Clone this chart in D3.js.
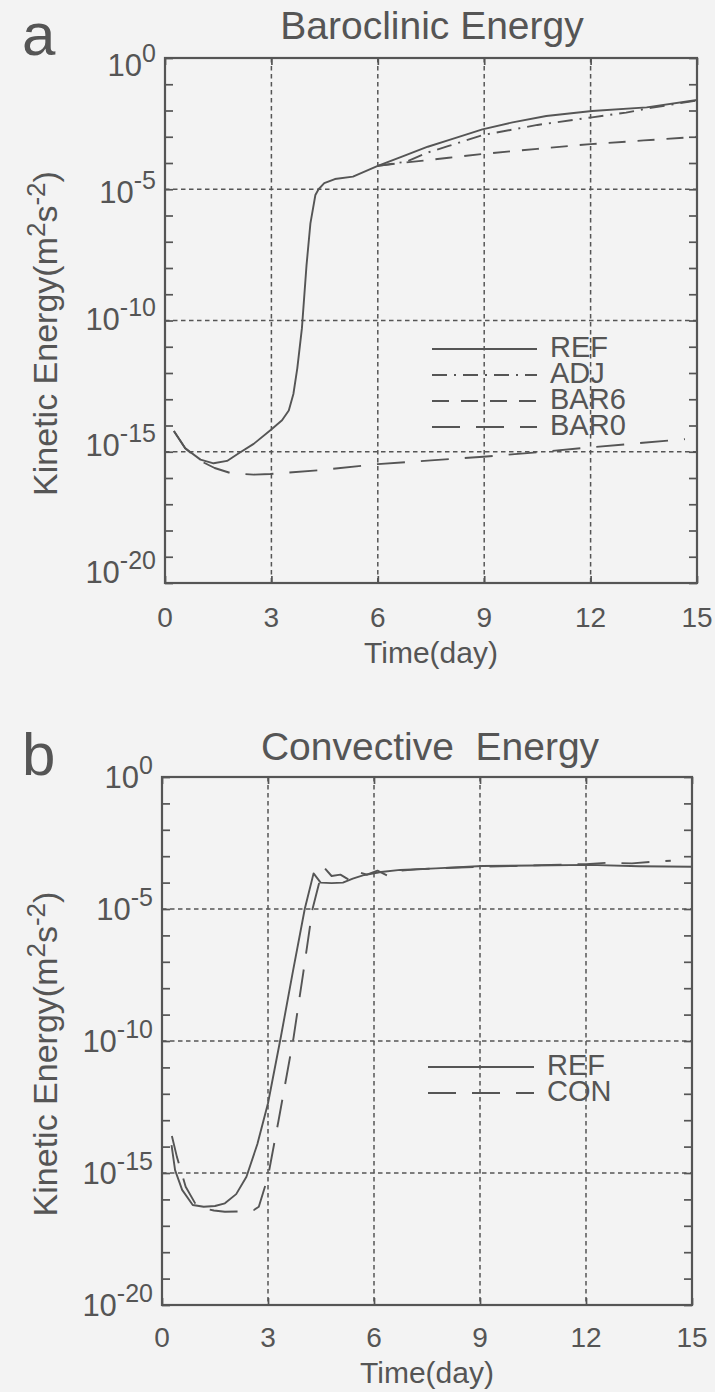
<!DOCTYPE html>
<html><head><meta charset="utf-8">
<script src="https://cdn.jsdelivr.net/npm/d3@7"></script>
<style>
body{margin:0;background:#f3f3f3;}
svg{display:block;}
text{font-family:"Liberation Sans",Arial,Helvetica,sans-serif;fill:#555;white-space:pre;}
</style>
</head><body>
<svg id="c" width="715" height="1392"></svg>
<script>
// ---------- data ----------
const xTickValues = [0, 3, 6, 9, 12, 15];
const yTickExponents = [0, -5, -10, -15, -20];
const xGridValues = [3, 6, 9, 12];
const yGridExponents = [-5, -10, -15];

// Panel a (values are log10 of kinetic energy, m^2 s^-2)
const refA_t = [0.25,0.57,1.0,1.37,1.75,2.08,2.5,2.98,3.3,3.49,3.62,3.73,3.86,3.99,4.1,4.24,4.33,4.49,4.79,5.3,6.0,6.7,7.41,8.02,8.95,9.8,10.75,12.04,13.58,15.0];
const refA_v = [-14.21,-14.87,-15.3,-15.44,-15.35,-15.06,-14.7,-14.17,-13.8,-13.43,-12.8,-11.82,-10.3,-7.9,-6.3,-5.22,-5.0,-4.77,-4.61,-4.52,-4.11,-3.75,-3.38,-3.12,-2.72,-2.45,-2.21,-2.02,-1.88,-1.6];
const adjA_t = [6.0,6.8,7.41,8.0,8.95,10.5,12.04,13.0,13.7,15.0];
const adjA_v = [-4.11,-3.95,-3.6,-3.35,-2.94,-2.55,-2.26,-2.08,-1.9,-1.62];
const bar6A_t = [6.0,6.64,7.3,8.0,9.0,10.5,12.0,13.5,15.0];
const bar6A_v = [-4.11,-4.0,-3.91,-3.8,-3.65,-3.46,-3.28,-3.14,-3.0];
const bar0A_t = [0.25,0.57,1.0,1.4,1.87,2.5,2.97,4.38,6.0,7.5,8.97,10.5,11.93,13.3,14.66];
const bar0A_v = [-14.21,-14.87,-15.35,-15.62,-15.82,-15.87,-15.85,-15.7,-15.47,-15.33,-15.19,-15.02,-14.84,-14.68,-14.52];

// Panel b
const refB_t = [0.27,0.37,0.57,0.87,1.18,1.5,1.78,2.1,2.39,2.7,3.0,3.37,3.7,4.04,4.29,4.49,4.8,5.12,5.4,5.73,6.2,6.74,7.75,9.06,10.5,12.09,13.5,15.0];
const refB_v = [-13.94,-14.89,-15.64,-16.21,-16.28,-16.25,-16.15,-15.8,-15.14,-13.9,-12.36,-9.8,-7.4,-5.0,-3.65,-4.0,-4.02,-4.0,-3.85,-3.71,-3.6,-3.52,-3.46,-3.37,-3.35,-3.33,-3.38,-3.40];
const conB_t = [0.28,0.42,0.67,0.96,1.2,1.47,1.78,2.29,2.6,2.74,3.0,3.3,3.72,4.0,4.26,4.45,4.61,4.8,5.05,5.3,5.55,5.8,6.1,6.4,6.74,7.2,8.0,9.0,10.0,11.0,12.0,12.6,13.3,14.0,14.4];
const conB_v = [-13.6,-14.38,-15.52,-16.2,-16.35,-16.42,-16.47,-16.45,-16.4,-16.28,-15.14,-13.0,-9.9,-7.4,-5.0,-4.0,-3.46,-3.75,-3.7,-3.9,-3.6,-3.7,-3.55,-3.75,-3.55,-3.5,-3.45,-3.4,-3.37,-3.33,-3.3,-3.25,-3.27,-3.2,-3.17];

const legendA = ["REF","ADJ","BAR6","BAR0"];
const legendB = ["REF","CON"];

// ---------- drawing ----------
const C = "#555";
const svg = d3.select("#c");
const dashes = {solid:null, dashdot:"15,7,2,7", dashed:"17,12", longdash:"28,16"};

function panel(cfg){
  const g = svg.append("g");
  const x = d3.scaleLinear().domain([0,15]).range([cfg.left,cfg.right]);
  const y = d3.scaleLog().domain([1e-20,1]).range([cfg.bottom,cfg.top]);
  const clipId = "clip"+cfg.letter;
  svg.append("clipPath").attr("id",clipId).append("rect")
    .attr("x",cfg.left).attr("y",cfg.top).attr("width",cfg.right-cfg.left).attr("height",cfg.bottom-cfg.top);

  // grid
  g.selectAll(".gx").data(xGridValues).join("line")
    .attr("x1",d=>x(d)).attr("x2",d=>x(d)).attr("y1",cfg.top).attr("y2",cfg.bottom)
    .attr("stroke",C).attr("stroke-width",1.5).attr("stroke-dasharray","4.5,3.5");
  g.selectAll(".gy").data(yGridExponents).join("line")
    .attr("y1",d=>y(Math.pow(10,d))).attr("y2",d=>y(Math.pow(10,d))).attr("x1",cfg.left).attr("x2",cfg.right)
    .attr("stroke",C).attr("stroke-width",1.5).attr("stroke-dasharray","4.5,3.5");

  // axes with inward ticks
  const decades = d3.range(-20,1).map(e=>Math.pow(10,e));
  const axL = d3.axisLeft(y).tickValues(decades).tickSize(-8).tickFormat("");
  const axR = d3.axisRight(y).tickValues(decades).tickSize(-8).tickFormat("");
  const axB = d3.axisBottom(x).tickValues(xTickValues).tickSize(-7).tickFormat("");
  const axT = d3.axisTop(x).tickValues(xTickValues).tickSize(-7).tickFormat("");
  [[axL,`translate(${cfg.left},0)`],[axR,`translate(${cfg.right},0)`],[axB,`translate(0,${cfg.bottom})`],[axT,`translate(0,${cfg.top})`]]
  .forEach(([ax,tr])=>{
    const a = g.append("g").attr("transform",tr).call(ax);
    a.select(".domain").remove();
    a.selectAll("line").attr("stroke",C).attr("stroke-width",1.7);
  });
  g.append("rect").attr("x",cfg.left).attr("y",cfg.top).attr("width",cfg.right-cfg.left).attr("height",cfg.bottom-cfg.top)
    .attr("fill","none").attr("stroke",C).attr("stroke-width",2.2);

  // y tick labels 10^n
  const mid = (cfg.top+cfg.bottom)/2;
  yTickExponents.forEach(e=>{
    const ty = y(Math.pow(10,e));
    const cy = mid + (ty-mid)*cfg.labelSquash + cfg.labelShift;
    const t = g.append("text").attr("x",cfg.left-9).attr("y",cy+11)
      .attr("text-anchor","end").attr("font-size",31);
    t.append("tspan").text("10");
    t.append("tspan").attr("font-size",25).attr("dy",-14).text(e===0?"0":"-"+(-e));
  });
  // x tick labels
  g.selectAll(".xl").data(xTickValues).join("text")
    .attr("x",d=>x(d)).attr("y",cfg.xLabelY).attr("text-anchor","middle").attr("font-size",28).text(d=>d);
  g.append("text").attr("x",(cfg.left+cfg.right)/2).attr("y",cfg.xTitleY).attr("text-anchor","middle")
    .attr("font-size",30).text("Time(day)");
  // y title
  const yt = g.append("text").attr("transform",`translate(${cfg.yTitleX},${mid+13}) rotate(-90)`)
    .attr("text-anchor","middle").attr("font-size",34);
  yt.append("tspan").text("Kinetic Energy(m");
  yt.append("tspan").attr("font-size",26).attr("dy",-12).text("2");
  yt.append("tspan").attr("dy",12).text("s");
  yt.append("tspan").attr("font-size",26).attr("dy",-12).text("-2");
  yt.append("tspan").attr("dy",12).text(")");
  // title and letter
  g.append("text").attr("x",cfg.titleX).attr("y",cfg.titleY).attr("text-anchor","middle")
    .attr("font-size",39).attr("xml:space","preserve").text(cfg.title);
  g.append("text").attr("x",cfg.letterX).attr("y",cfg.letterY).attr("font-size",60).text(cfg.letter);

  // series
  const line = d3.line().x(d=>x(d[0])).y(d=>y(Math.pow(10,d[1])));
  cfg.series.forEach(s=>{
    g.append("path").attr("clip-path",`url(#${clipId})`)
      .datum(d3.zip(s.t,s.v)).attr("d",line).attr("fill","none")
      .attr("stroke",C).attr("stroke-width",1.9).attr("stroke-linejoin","round")
      .attr("stroke-dasharray",dashes[s.style]);
  });
  // legend
  cfg.series.forEach((s,i)=>{
    const ly = cfg.legY + i*26;
    g.append("line").attr("x1",cfg.legX1).attr("x2",cfg.legX2).attr("y1",ly).attr("y2",ly)
      .attr("stroke",C).attr("stroke-width",1.9).attr("stroke-dasharray",dashes[s.style]);
    g.append("text").attr("x",cfg.legTextX).attr("y",ly+8).attr("font-size",29).text(cfg.legend[i]);
  });
}

panel({letter:"a", title:"Baroclinic Energy", left:165, right:697, top:58, bottom:583,
  labelSquash:0.965, labelShift:-2,
  xLabelY:627, xTitleY:663, yTitleX:57, titleX:432, titleY:39, letterX:22, letterY:55,
  legX1:432, legX2:537, legTextX:550, legY:349, legend:legendA,
  series:[{t:refA_t,v:refA_v,style:"solid"},{t:adjA_t,v:adjA_v,style:"dashdot"},
          {t:bar6A_t,v:bar6A_v,style:"dashed"},{t:bar0A_t,v:bar0A_v,style:"longdash"}]});

panel({letter:"b", title:"Convective  Energy", left:162, right:692, top:777, bottom:1305,
  labelSquash:1, labelShift:0,
  xLabelY:1347, xTitleY:1383, yTitleX:57, titleX:430, titleY:760, letterX:22, letterY:775,
  legX1:428, legX2:534, legTextX:547, legY:1067, legend:legendB,
  series:[{t:refB_t,v:refB_v,style:"solid"},{t:conB_t,v:conB_v,style:"longdash"}]});
</script>
</body></html>
